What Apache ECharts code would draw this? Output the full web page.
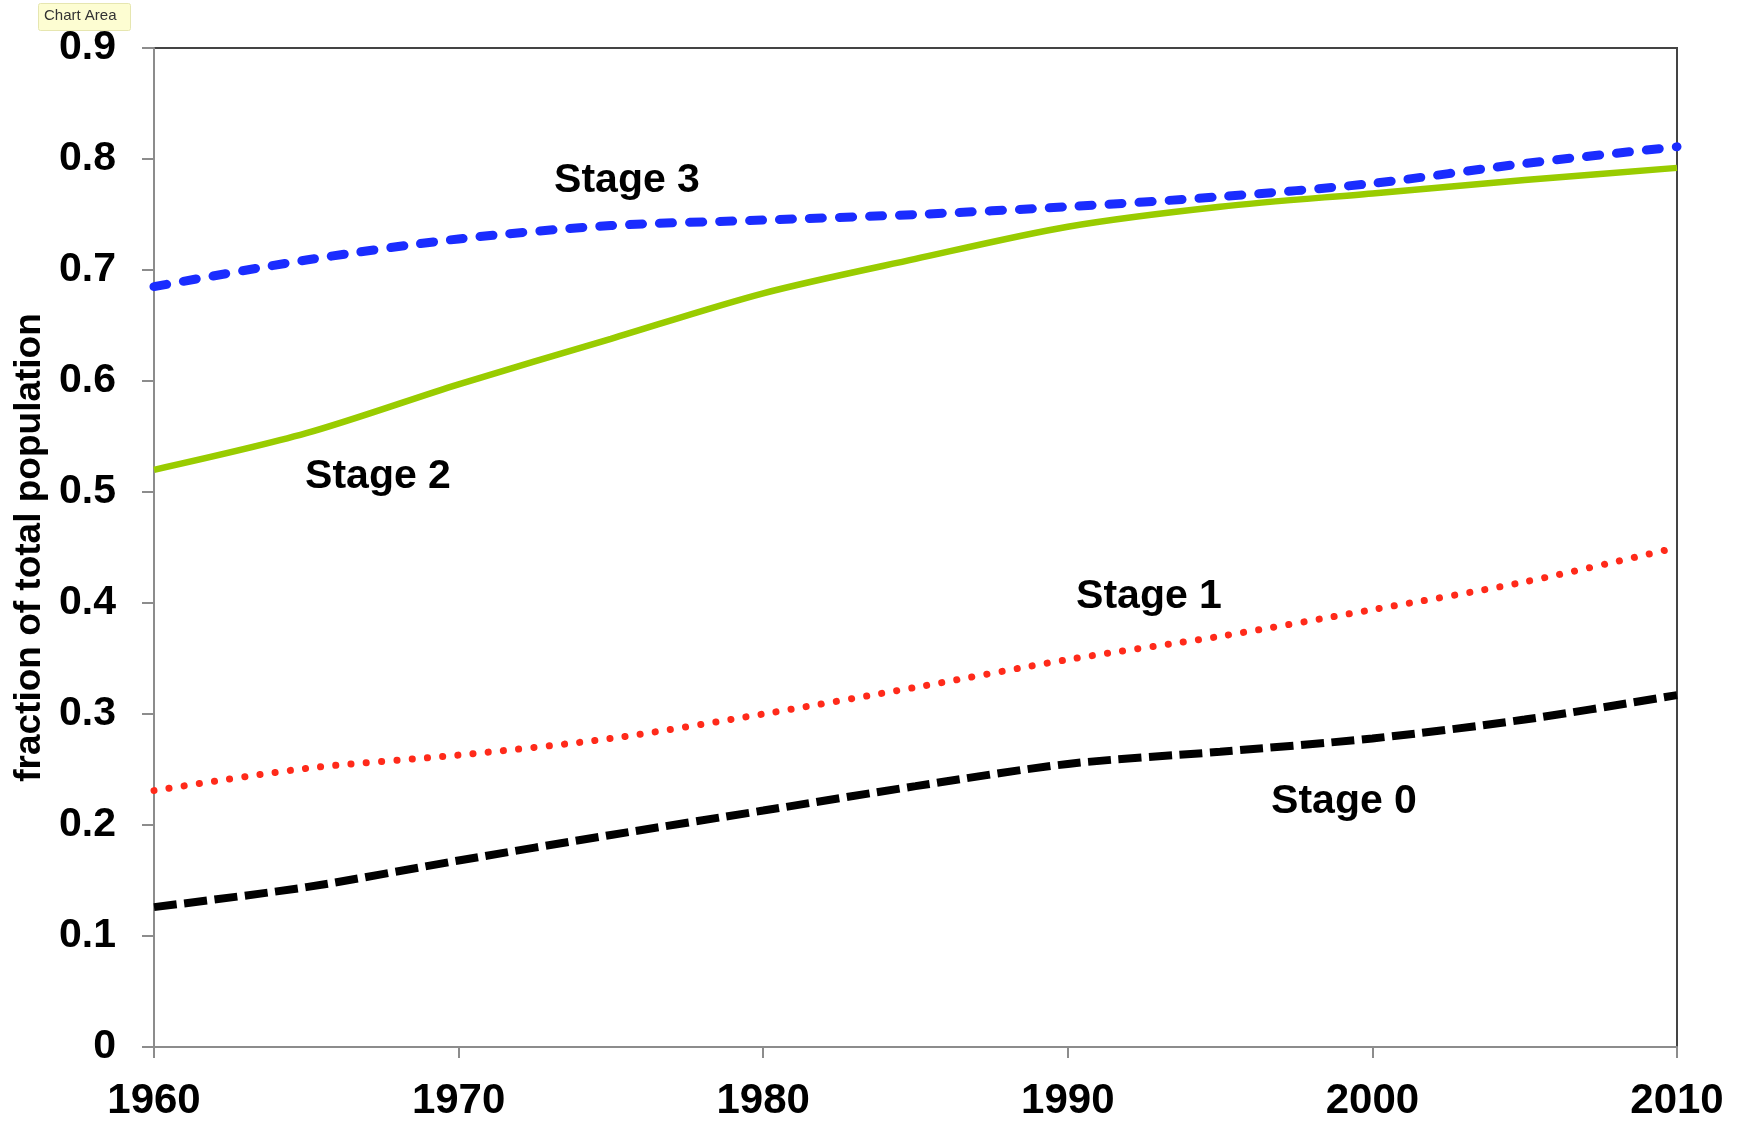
<!DOCTYPE html>
<html>
<head>
<meta charset="utf-8">
<script src="https://cdn.jsdelivr.net/npm/echarts@6/dist/echarts.min.js"></script>
<style>
html,body{margin:0;padding:0;background:#fff;}
#main{width:1741px;height:1126px;}
</style>
</head>
<body>
<div id="main"></div>
<script>
// ---- data ----
const years = [1960, 1965, 1970, 1975, 1980, 1985, 1990, 1995, 2000, 2005, 2010];
const stage0 = [0.126, 0.144, 0.168, 0.191, 0.213, 0.235, 0.255, 0.266, 0.278, 0.295, 0.317];
const stage1 = [0.231, 0.251, 0.263, 0.278, 0.300, 0.324, 0.349, 0.370, 0.394, 0.419, 0.450];
const stage2 = [0.520, 0.553, 0.597, 0.638, 0.679, 0.710, 0.739, 0.757, 0.769, 0.781, 0.792];
const stage3 = [0.685, 0.709, 0.728, 0.740, 0.745, 0.750, 0.757, 0.766, 0.778, 0.796, 0.811];
const seriesNames = ['Stage 0', 'Stage 1', 'Stage 2', 'Stage 3'];
const yAxisTitle = 'fraction of total population';
const xTicks = [1960, 1970, 1980, 1990, 2000, 2010];
const yTicks = [0, 0.1, 0.2, 0.3, 0.4, 0.5, 0.6, 0.7, 0.8, 0.9];

const pair = (vals) => years.map((y, i) => [y, vals[i]]);
const FONT = '"Liberation Sans", Arial, Helvetica, sans-serif';

const chart = echarts.init(document.getElementById('main'), null, {renderer: 'canvas'});
const option = {
  backgroundColor: '#ffffff',
  animation: false,
  grid: {left: 154, right: 64, top: 48, bottom: 79, show: true, borderColor: '#444', borderWidth: 2, backgroundColor: 'transparent'},
  xAxis: {
    type: 'value', min: 1960, max: 2010, interval: 10,
    axisLine: {show: true, lineStyle: {color: '#8c8c8c', width: 2}},
    axisTick: {show: true, length: 11, lineStyle: {color: '#8c8c8c', width: 2}},
    splitLine: {show: false},
    axisLabel: {fontFamily: FONT, fontWeight: 'bold', fontSize: 42, color: '#000', margin: 33,
      formatter: v => xTicks.includes(v) ? String(v) : ''}
  },
  yAxis: {
    type: 'value', min: 0, max: 0.9, interval: 0.1,
    name: yAxisTitle, nameLocation: 'middle', nameGap: 105, nameRotate: 90,
    nameTextStyle: {fontFamily: FONT, fontWeight: 'bold', fontSize: 37, color: '#000'},
    axisLine: {show: true, lineStyle: {color: '#8c8c8c', width: 2}},
    axisTick: {show: true, length: 12, lineStyle: {color: '#8c8c8c', width: 2}},
    splitLine: {show: false},
    axisLabel: {fontFamily: FONT, fontWeight: 'bold', fontSize: 41, color: '#000', margin: 38,
      formatter: v => { const t = yTicks.find(k => Math.abs(k - v) < 1e-9); return t === undefined ? '' : (t === 0 ? '0' : t.toFixed(1)); }}
  },
  series: [
    {name: seriesNames[0], type: 'line', data: pair(stage0), smooth: 0.3, showSymbol: false,
      lineStyle: {color: '#000000', width: 8, type: [23, 7.5], cap: 'butt'}},
    {name: seriesNames[1], type: 'line', data: pair(stage1), smooth: 0.3, showSymbol: false,
      lineStyle: {color: '#ff2a1a', width: 7, type: [0.1, 15.2], cap: 'round'}},
    {name: seriesNames[2], type: 'line', data: pair(stage2), smooth: 0.3, showSymbol: false,
      lineStyle: {color: '#99cc00', width: 6.5, type: 'solid'}},
    {name: seriesNames[3], type: 'line', data: pair(stage3), smooth: 0.3, showSymbol: false,
      lineStyle: {color: '#1a2cff', width: 9, type: [13, 17], cap: 'round'}}
  ],
  graphic: [
    {type: 'rect', left: 38, top: 3, shape: {width: 92, height: 27, r: 2},
      style: {fill: '#fdfdd2', stroke: '#e6e6b0', lineWidth: 1}},
    {type: 'text', left: 44, top: 8, style: {text: 'Chart Area', font: '15px ' + FONT, fill: '#333'}},
    {type: 'text', x: 627, y: 181, style: {text: seriesNames[3], font: 'bold 41px ' + FONT, fill: '#000', align: 'center', verticalAlign: 'middle'}},
    {type: 'text', x: 378, y: 477, style: {text: seriesNames[2], font: 'bold 41px ' + FONT, fill: '#000', align: 'center', verticalAlign: 'middle'}},
    {type: 'text', x: 1149, y: 597, style: {text: seriesNames[1], font: 'bold 41px ' + FONT, fill: '#000', align: 'center', verticalAlign: 'middle'}},
    {type: 'text', x: 1344, y: 802, style: {text: seriesNames[0], font: 'bold 41px ' + FONT, fill: '#000', align: 'center', verticalAlign: 'middle'}}
  ]
};
chart.setOption(option);
</script>
</body>
</html>
